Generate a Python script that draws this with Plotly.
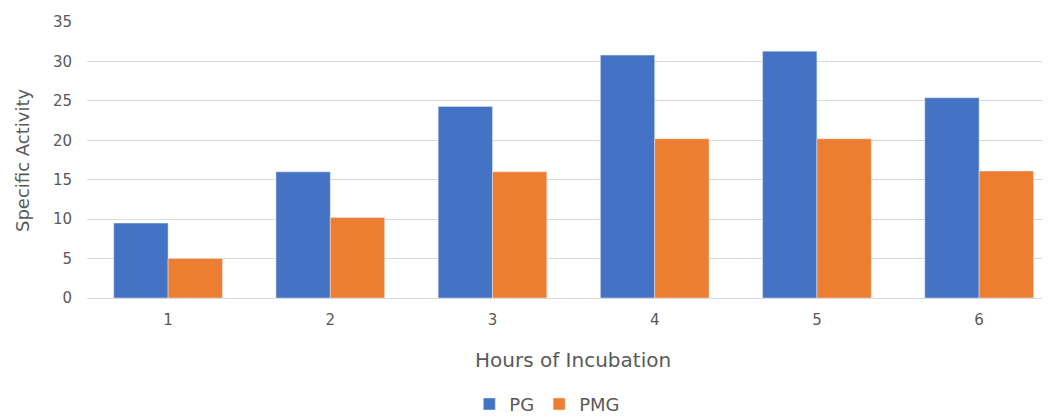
import plotly.graph_objects as go

hours = [1, 2, 3, 4, 5, 6]
tick_labels = ["1", "2", "3", "4", "5", "6"]
pg = [9.5, 16.0, 24.3, 30.8, 31.3, 25.4]
pmg = [5.0, 10.2, 16.0, 20.2, 20.2, 16.1]

fig = go.Figure()
fig.add_trace(go.Bar(x=hours, y=pg, name="PG", marker_color="#4472C4"))
fig.add_trace(go.Bar(x=hours, y=pmg, name="PMG", marker_color="#ED7D31"))

font_c = "#595959"
fam = "DejaVu Sans"
fig.update_layout(
    width=1042, height=409,
    margin=dict(l=79, r=0, t=14, b=119, autoexpand=False),
    paper_bgcolor="white", plot_bgcolor="white",
    barmode="group", bargap=0.33, bargroupgap=0,
    font=dict(family=fam, color=font_c, size=15),
    showlegend=True,
    legend=dict(orientation="h", x=0.478, xanchor="center", y=-0.385, yanchor="middle",
                font=dict(size=18, color=font_c), itemwidth=30, traceorder="normal"),
    xaxis=dict(range=[0.5, 6.437], tickmode="array", tickvals=hours, ticktext=tick_labels,
               showgrid=False, showline=True, linecolor="#D9D9D9", linewidth=1,
               ticks="", tickfont=dict(size=15, color=font_c), ticklabelstandoff=8,
               zeroline=False, automargin=False),
    yaxis=dict(range=[0, 35], dtick=5, showgrid=True, gridcolor="#D9D9D9", gridwidth=1,
               showline=False, zeroline=False, ticks="", automargin=False,
               tickfont=dict(size=15, color=font_c), ticklabelstandoff=14),
    annotations=[
        dict(text="Hours of Incubation", xref="paper", yref="paper", x=0.505, y=-0.225,
             xanchor="center", yanchor="middle", showarrow=False,
             font=dict(size=20, color=font_c)),
        dict(text="Specific Activity", xref="paper", yref="paper", x=-0.0675, y=0.5,
             xanchor="center", yanchor="middle", showarrow=False, textangle=-90,
             font=dict(size=18, color=font_c)),
    ],
)
fig.write_html("out.html")
